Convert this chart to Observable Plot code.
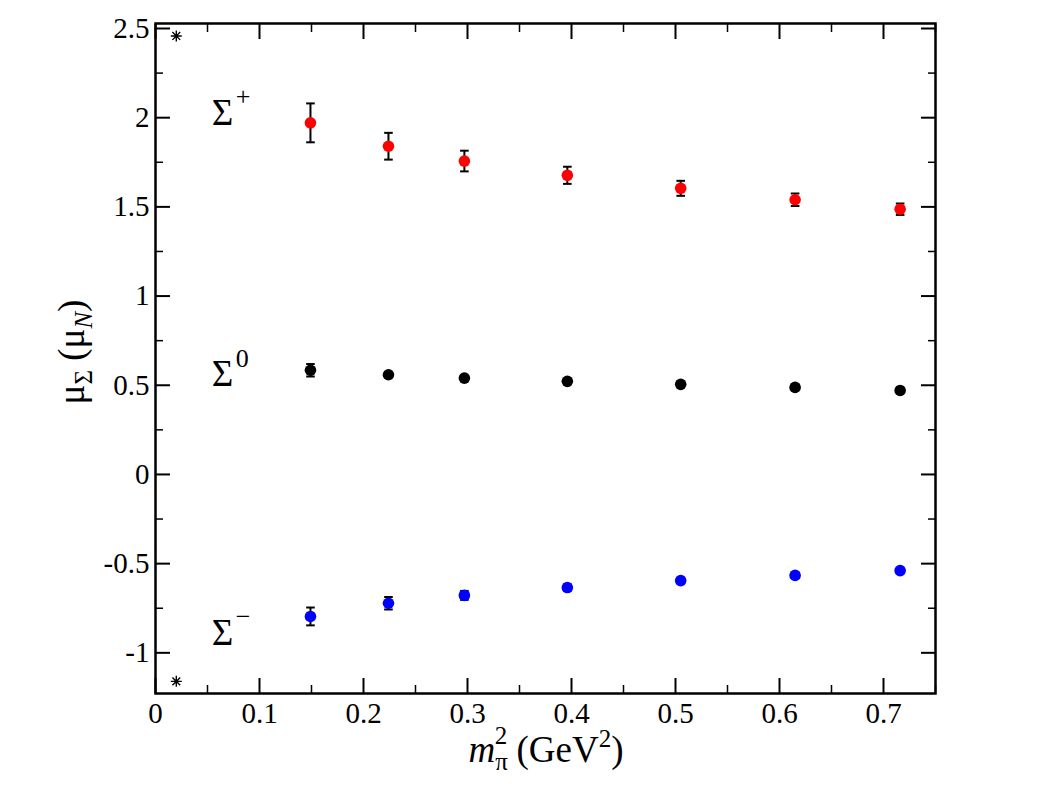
<!DOCTYPE html>
<html><head><meta charset="utf-8">
<script src="https://cdn.jsdelivr.net/npm/d3@7"></script>
<script src="https://cdn.jsdelivr.net/npm/@observablehq/plot@0.6"></script>
<style>body{margin:0;background:#fff}</style>
</head><body><div id="chart"></div>
<script>
// ---- data ----
const mpi2 = [0.149, 0.224, 0.297, 0.396, 0.505, 0.615, 0.716];
const sigmaPlus = [1.971, 1.840, 1.757, 1.677, 1.604, 1.540, 1.487];
const sigmaPlusErr = [0.109, 0.075, 0.058, 0.048, 0.042, 0.035, 0.032];
const sigmaZero = [0.584, 0.559, 0.540, 0.522, 0.505, 0.488, 0.471];
const sigmaZeroErr = [0.035, 0.015, 0.012, 0.011, 0.010, 0.010, 0.010];
const sigmaMinus = [-0.796, -0.722, -0.678, -0.634, -0.595, -0.566, -0.539];
const sigmaMinusErr = [0.050, 0.035, 0.025, 0.018, 0.015, 0.014, 0.012];
const seriesColors = ["#ff0000", "#000000", "#0000ff"];
const experimentX = [0.02, 0.02];
const experimentY = [2.458, -1.160];
const labelBase = ["Σ", "Σ", "Σ"];
const labelCharge = ["+", "0", "−"];
const labelX = [0.054, 0.054, 0.054];
const labelY = [2.028, 0.560, -0.889];
const xMajor = [0, 0.1, 0.2, 0.3, 0.4, 0.5, 0.6, 0.7];
const xMinor = [0.05, 0.15, 0.25, 0.35, 0.45, 0.55, 0.65, 0.75];
const yMajor = [-1, -0.5, 0, 0.5, 1, 1.5, 2, 2.5];
const yMinor = [-0.75, -0.25, 0.25, 0.75, 1.25, 1.75, 2.25];
const xDomain = [0, 0.75];
const yDomain = [-1.228, 2.528];

// ---- table ----
const series = [sigmaPlus, sigmaZero, sigmaMinus];
const errs = [sigmaPlusErr, sigmaZeroErr, sigmaMinusErr];
const pts = [];
series.forEach((vals, s) => vals.forEach((v, i) => pts.push({x: mpi2[i], y: v, e: errs[s][i], c: seriesColors[s]})));
const exp = experimentX.map((x, i) => ({x, y: experimentY[i]}));
const labels = labelBase.map((t, i) => ({t, sup: labelCharge[i], x: labelX[i], y: labelY[i]}));

const cap = {draw(ctx, size) { const w = Math.sqrt(size / Math.PI); ctx.moveTo(-w, 0); ctx.lineTo(w, 0); }};
const star8 = {draw(ctx, size) {
  const r = Math.sqrt(size / Math.PI), d = r * Math.SQRT1_2;
  ctx.moveTo(0, -r); ctx.lineTo(0, r);
  ctx.moveTo(-r, 0); ctx.lineTo(r, 0);
  ctx.moveTo(-d, -d); ctx.lineTo(d, d);
  ctx.moveTo(-d, d); ctx.lineTo(d, -d);
}};
const fmt = d => String(d);
const tickStyle = {text: null, tickFormat: null, label: null};
const serif = "'Liberation Serif', 'Times New Roman', serif";

const plot = Plot.plot({
  width: 1038, height: 802,
  marginLeft: 155, marginRight: 103, marginTop: 23, marginBottom: 109,
  style: {fontFamily: serif, fontSize: "29px", background: "#fff", color: "#000"},
  x: {domain: xDomain},
  y: {domain: yDomain},
  marks: [
    // inward ticks on all 4 sides
    Plot.axisX(xMajor, {anchor: "bottom", tickSize: -15, strokeWidth: 2, ...tickStyle}),
    Plot.axisX(xMinor, {anchor: "bottom", tickSize: -8, strokeWidth: 1.5, ...tickStyle}),
    Plot.axisX(xMajor, {anchor: "top", tickSize: -15, strokeWidth: 2, ...tickStyle}),
    Plot.axisX(xMinor, {anchor: "top", tickSize: -8, strokeWidth: 1.5, ...tickStyle}),
    Plot.axisY(yMajor, {anchor: "left", tickSize: -15, strokeWidth: 2, ...tickStyle}),
    Plot.axisY(yMinor, {anchor: "left", tickSize: -8, strokeWidth: 1.5, ...tickStyle}),
    Plot.axisY(yMajor, {anchor: "right", tickSize: -15, strokeWidth: 2, ...tickStyle}),
    Plot.axisY(yMinor, {anchor: "right", tickSize: -8, strokeWidth: 1.5, ...tickStyle}),
    // tick labels
    Plot.axisX(xMajor, {anchor: "bottom", tickSize: 0, tickPadding: 9, tickFormat: fmt, label: null, fontSize: 29, fontFamily: serif}),
    Plot.axisY(yMajor, {anchor: "left", tickSize: 0, tickPadding: 6, tickFormat: fmt, label: null, fontSize: 29, fontFamily: serif}),
    Plot.frame({stroke: "#000", strokeWidth: 2.5}),
    // error bars
    Plot.ruleX(pts, {x: "x", y1: d => d.y - d.e, y2: d => d.y + d.e, stroke: "#000", strokeWidth: 2}),
    Plot.dot(pts, {x: "x", y: d => d.y - d.e, symbol: cap, r: 4.3, stroke: "#000", strokeWidth: 2, fill: "none"}),
    Plot.dot(pts, {x: "x", y: d => d.y + d.e, symbol: cap, r: 4.3, stroke: "#000", strokeWidth: 2, fill: "none"}),
    // points
    Plot.dot(pts, {x: "x", y: "y", r: 5.8, fill: d => d.c, stroke: "none"}),
    // experimental asterisks
    Plot.dot(exp, {x: "x", y: "y", symbol: star8, r: 5.5, stroke: "#000", strokeWidth: 1.4, fill: "none"}),
    // series labels
    Plot.text(labels, {x: "x", y: "y", text: "t", textAnchor: "start", fontSize: 37, fontFamily: serif, fill: "#000"}),
    Plot.text(labels, {x: "x", y: "y", text: "sup", textAnchor: "start", fontSize: 26, fontFamily: serif, dx: 24, dy: -16, fill: "#000"})
  ]
});

const svg = d3.select(plot);
// x-axis label
const xl = svg.append("text").attr("x", 546).attr("y", 762).attr("text-anchor", "middle")
  .attr("font-family", serif).attr("font-size", 37).attr("fill", "#000");
xl.append("tspan").attr("font-style", "italic").text("m");
xl.append("tspan").attr("font-size", 25).attr("dy", 8).text("π");
xl.append("tspan").attr("font-size", 25).attr("dx", -13).attr("dy", -26).text("2");
xl.append("tspan").attr("dy", 18).text(" (GeV");
xl.append("tspan").attr("font-size", 25).attr("dy", -15).text("2");
xl.append("tspan").attr("dy", 15).text(")");
// y-axis label
const yl = svg.append("text").attr("transform", "translate(84,352) rotate(-90)").attr("text-anchor", "middle")
  .attr("font-family", serif).attr("font-size", 37).attr("fill", "#000");
yl.append("tspan").text("μ");
yl.append("tspan").attr("font-size", 25).attr("dy", 8).text("Σ");
yl.append("tspan").attr("dy", -8).text(" (μ");
yl.append("tspan").attr("font-size", 25).attr("font-style", "italic").attr("dy", 8).text("N");
yl.append("tspan").attr("dy", -8).text(")");

document.getElementById("chart").appendChild(plot);
</script>
</body></html>
